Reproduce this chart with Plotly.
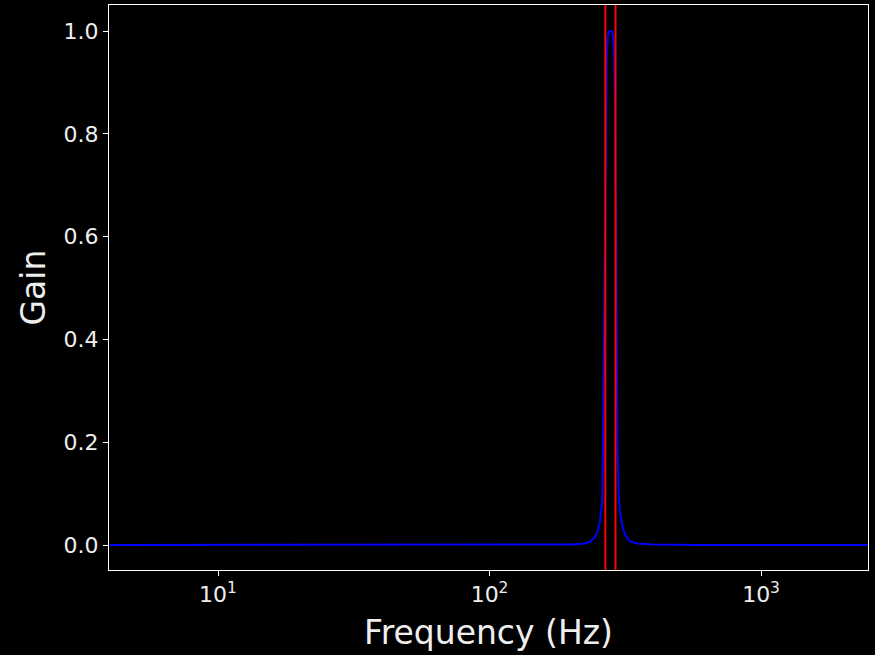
import plotly.graph_objects as go

# Data
freq_hz = [4, 10, 50, 100, 150, 200, 225, 235, 245, 250, 255, 260, 262, 264, 266, 268, 270, 273,
           276, 279, 282, 285, 288, 290, 292, 294, 296, 299, 302, 309, 316, 323, 330, 350, 400,
           600, 1000, 2500]
gain = [0.0, 0.0, 0.0, 0.0, 0.0005, 0.001, 0.003, 0.007, 0.016, 0.026, 0.045, 0.085, 0.2, 0.42, 0.65,
        0.85, 0.95, 0.99, 1.0, 1.0, 1.0, 0.99, 0.95, 0.85, 0.65, 0.42, 0.2, 0.1, 0.065, 0.035,
        0.02, 0.012, 0.007, 0.003, 0.001, 0.0002, 0.0, 0.0]
cutoffs_hz = [267, 291]
x_tick_vals = [10, 100, 1000]
x_tick_text = ["10<sup>1</sup>", "10<sup>2</sup>", "10<sup>3</sup>"]
y_tick_vals = [0.0, 0.2, 0.4, 0.6, 0.8, 1.0]

fig = go.Figure()
fig.add_trace(go.Scatter(x=freq_hz, y=gain, mode="lines",
                         line=dict(color="#0000ff", width=2), showlegend=False))

for c in cutoffs_hz:
    fig.add_shape(type="line", x0=c, x1=c, xref="x", y0=0, y1=1, yref="paper",
                  line=dict(color="#ff0000", width=2))

font_family = "DejaVu Sans"
text_color = "#eeeeee"
fig.update_layout(
    width=875, height=655,
    margin=dict(l=109, r=7, t=5, b=85),
    paper_bgcolor="black", plot_bgcolor="black",
    font=dict(family=font_family, color=text_color),
    showlegend=False,
)
fig.update_xaxes(
    type="log", range=[0.5985, 3.394],
    tickvals=x_tick_vals, ticktext=x_tick_text,
    showgrid=False, zeroline=False,
    showline=True, linecolor="white", linewidth=1, mirror=True,
    ticks="outside", ticklen=5, tickcolor="white", tickwidth=1,
    tickfont=dict(size=22, family=font_family, color=text_color),
    title=dict(text="Frequency (Hz)", font=dict(size=33, family=font_family, color=text_color),
               standoff=14),
)
fig.update_yaxes(
    range=[-0.0486, 1.0506],
    tickvals=y_tick_vals, ticktext=[f"{v:.1f}" for v in y_tick_vals],
    showgrid=False, zeroline=False,
    showline=True, linecolor="white", linewidth=1, mirror=True,
    ticks="outside", ticklen=5, tickcolor="white", tickwidth=1,
    tickfont=dict(size=22, family=font_family, color=text_color),
    title=dict(text="Gain", font=dict(size=33, family=font_family, color=text_color),
               standoff=8),
)

fig.write_html("out.html")
